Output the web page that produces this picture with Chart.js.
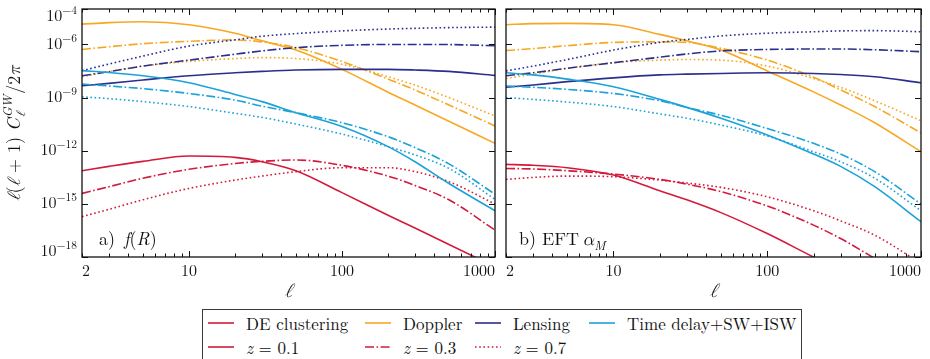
<!DOCTYPE html>
<html>
<head>
<meta charset="utf-8">
<script src="https://cdn.jsdelivr.net/npm/chart.js@4.4.1/dist/chart.umd.min.js"></script>
<style>
  html, body { margin: 0; padding: 0; background: #fff; width: 930px; height: 359px; overflow: hidden; }
  .panel { position: absolute; top: 0; height: 300px; }
  #wrapA { left: 0; width: 500px; }
  #wrapB { left: 500px; width: 430px; }
  #legend {
    position: absolute; left: 202px; top: 309px; width: 600px; height: 70px;
    border: 1.5px solid #3a3a3a; box-sizing: border-box;
    font-family: 'Latin Modern Roman', 'Latin Modern Math', 'Liberation Serif', serif; font-size: 17px; color: #111;
  }
  .item { position: absolute; height: 20px; display: flex; align-items: center; white-space: nowrap; }
  .item svg { margin-right: 12px; }
</style>
</head>
<body>
<div class="panel" id="wrapA"><canvas id="chartA"></canvas></div>
<div class="panel" id="wrapB"><canvas id="chartB"></canvas></div>
<div id="legend"></div>

<script>
// ── Data ───────────────────────────────────────────
const ell = [2, 3, 5, 10, 20, 30, 50, 100, 200, 300, 500, 1000];

// a) f(R)
const frDE1  = [7.4e-14, 1.3e-13, 2.5e-13, 5.0e-13, 4.2e-13, 2.4e-13, 7.4e-14, 4.3e-15, 2.3e-16, 4.3e-17, 5.1e-18, 2.8e-19];
const frDE3  = [3.9e-15, 9.3e-15, 2.8e-14, 8.9e-14, 1.9e-13, 2.5e-13, 3.0e-13, 1.5e-13, 3.7e-14, 1.1e-14, 1.7e-15, 3.3e-17];
const frDE7  = [1.9e-16, 4.9e-16, 1.7e-15, 7.4e-15, 2.2e-14, 3.7e-14, 6.6e-14, 1.1e-13, 1.1e-13, 6.6e-14, 1.8e-14, 9.8e-16];
const frDop1 = [1.4e-5, 1.7e-5, 1.9e-5, 1.3e-5, 4.3e-6, 1.6e-6, 4.8e-7, 3.9e-8, 2.0e-9, 3.8e-10, 4.6e-11, 2.6e-12];
const frDop3 = [5.2e-7, 7.4e-7, 1.1e-6, 1.5e-6, 1.8e-6, 1.4e-6, 6.6e-7, 1.1e-7, 1.1e-8, 2.7e-9, 3.8e-10, 2.5e-11];
const frDop7 = [1.5e-8, 2.9e-8, 6.0e-8, 1.1e-7, 1.6e-7, 1.8e-7, 1.6e-7, 7.6e-8, 1.5e-8, 5.1e-9, 1.0e-9, 9.1e-11];
const frLen1 = [4.7e-9, 6.3e-9, 9.8e-9, 1.7e-8, 2.5e-8, 3.0e-8, 3.6e-8, 3.9e-8, 3.9e-8, 3.6e-8, 3.0e-8, 1.8e-8];
const frLen3 = [1.7e-8, 2.9e-8, 6.0e-8, 1.3e-7, 2.8e-7, 4.3e-7, 6.6e-7, 8.9e-7, 1.0e-6, 1.0e-6, 9.8e-7, 8.5e-7];
const frLen7 = [3.3e-8, 7.8e-8, 2.2e-7, 8.1e-7, 1.8e-6, 2.9e-6, 4.1e-6, 5.8e-6, 7.4e-6, 8.1e-6, 8.9e-6, 9.5e-6];
const frTD1  = [3.3e-8, 2.6e-8, 1.7e-8, 6.9e-9, 1.5e-9, 5.9e-10, 1.4e-10, 2.3e-11, 1.7e-12, 2.4e-13, 1.4e-14, 4.1e-16];
const frTD3  = [5.8e-9, 4.5e-9, 3.2e-9, 1.7e-9, 7.2e-10, 3.3e-10, 1.4e-10, 3.8e-11, 6.2e-12, 1.5e-12, 1.8e-13, 3.5e-15];
const frTD7  = [1.1e-9, 8.7e-10, 5.9e-10, 3.1e-10, 1.3e-10, 7.6e-11, 3.2e-11, 8.7e-12, 1.7e-12, 5.8e-13, 1.0e-13, 1.8e-15];

// b) EFT alpha_M
const eftDE1  = [1.7e-13, 1.5e-13, 1.1e-13, 4.3e-14, 5.5e-15, 1.7e-15, 3.2e-16, 2.1e-17, 1.0e-18, 1.8e-19, 2.1e-20, 6.3e-22];
const eftDE3  = [1.0e-13, 9.3e-14, 7.4e-14, 4.8e-14, 2.4e-14, 1.3e-14, 4.9e-15, 7.6e-16, 6.3e-17, 1.1e-17, 8.3e-19, 2.1e-20];
const eftDE7  = [2.4e-14, 3.1e-14, 3.7e-14, 3.4e-14, 2.2e-14, 1.5e-14, 8.5e-15, 2.5e-15, 4.1e-16, 1.1e-16, 1.7e-17, 4.4e-19];
const eftDop1 = [1.3e-5, 1.5e-5, 1.55e-5, 1.3e-5, 3.7e-6, 1.6e-6, 4.8e-7, 3.2e-8, 2.1e-9, 3.8e-10, 3.8e-11, 8.7e-13];
const eftDop3 = [4.5e-7, 5.8e-7, 8.5e-7, 1.3e-6, 1.4e-6, 1.3e-6, 6.0e-7, 1.3e-7, 1.4e-8, 2.7e-9, 3.1e-10, 1.0e-11];
const eftDop7 = [1.2e-8, 2.1e-8, 4.5e-8, 9.3e-8, 1.3e-7, 1.4e-7, 1.3e-7, 6.0e-8, 1.2e-8, 3.8e-9, 6.6e-10, 4.9e-11];
const eftLen1 = [3.8e-9, 5.1e-9, 7.9e-9, 1.3e-8, 1.9e-8, 2.1e-8, 2.3e-8, 2.5e-8, 2.3e-8, 2.0e-8, 1.5e-8, 6.9e-9];
const eftLen3 = [1.7e-8, 2.5e-8, 4.5e-8, 9.3e-8, 1.9e-7, 2.9e-7, 4.3e-7, 5.2e-7, 5.5e-7, 5.5e-7, 5.0e-7, 3.9e-7];
const eftLen7 = [3.2e-8, 6.0e-8, 1.4e-7, 4.8e-7, 1.3e-6, 1.9e-6, 3.0e-6, 4.3e-6, 5.2e-6, 5.8e-6, 6.0e-6, 5.2e-6];
const eftTD1  = [2.5e-8, 1.9e-8, 1.1e-8, 4.1e-9, 7.9e-10, 2.8e-10, 6.8e-11, 7.8e-12, 6.5e-13, 1.3e-13, 9.3e-15, 9.8e-17];
const eftTD3  = [4.5e-9, 3.8e-9, 2.9e-9, 1.7e-9, 6.6e-10, 2.8e-10, 1.0e-10, 1.8e-11, 2.6e-12, 6.5e-13, 6.6e-14, 9.8e-16];
const eftTD7  = [1.0e-9, 7.9e-10, 5.6e-10, 3.1e-10, 1.2e-10, 6.8e-11, 2.8e-11, 6.8e-12, 8.7e-13, 2.4e-13, 2.8e-14, 4.1e-16];

// ── Ticks / labels ────────────────────────────────
const xLabelTicks = [2, 10, 100, 1000];
const yTickExps = [-4, -6, -9, -12, -15, -18];
const legendRow1 = ['DE clustering', 'Doppler', 'Lensing', 'Time delay+SW+ISW'];
const legendRow2 = ['0.1', '0.3', '0.7'];

// ── Styles ────────────────────────────────────────
const SERIF = "'Latin Modern Roman', 'Latin Modern Math', 'Liberation Serif', serif";
const C_RED = '#d41a3c';
const C_ORANGE = '#f7a823';
const C_NAVY = '#2a2f8e';
const C_CYAN = '#1ba2d8';
const LW = 1.6;
const DASHDOT = [9, 2.5, 1.6, 2.5];
const DOTTED = [1.6, 2.6];

function series(values, color, dash) {
  return {
    data: ell.map((l, i) => ({ x: l, y: values[i] })),
    borderColor: color,
    borderWidth: LW,
    borderDash: dash,
    borderCapStyle: 'butt',
    pointRadius: 0,
    cubicInterpolationMode: 'monotone',
    fill: false,
    clip: 0,
  };
}

function panelSets(de, dop, len, td) {
  return [
    series(td[0], C_CYAN, []), series(td[1], C_CYAN, DASHDOT), series(td[2], C_CYAN, DOTTED),
    series(len[0], C_NAVY, []), series(len[1], C_NAVY, DASHDOT), series(len[2], C_NAVY, DOTTED),
    series(dop[0], C_ORANGE, []), series(dop[1], C_ORANGE, DASHDOT), series(dop[2], C_ORANGE, DOTTED),
    series(de[0], C_RED, []), series(de[1], C_RED, DASHDOT), series(de[2], C_RED, DOTTED),
  ];
}

// run of [text, style] pieces; style: 'r' roman, 'i' italic, 'sub' small italic, 'subsup' stacked
function fontFor(st, size) {
  if (st === 'sub' || st === 'subsup') return `italic ${size * 0.7}px ${SERIF}`;
  return `${st === 'i' ? 'italic ' : ''}${size}px ${SERIF}`;
}
function pieceWidth(ctx, p, size) {
  ctx.font = fontFor(p[1], size);
  if (p[1] === 'subsup') return Math.max(ctx.measureText(p[0]).width, ctx.measureText(p[2]).width) + 2;
  return ctx.measureText(p[0]).width;
}
function drawPieces(ctx, pieces, x, y, size) {
  let cx = x;
  for (const p of pieces) {
    const w = pieceWidth(ctx, p, size);
    if (p[1] === 'subsup') {
      ctx.fillText(p[2], cx + 1, y + size * 0.28);
      ctx.fillText(p[0], cx + 1, y - size * 0.45);
    } else if (p[1] === 'sub') {
      ctx.fillText(p[0], cx, y + size * 0.25);
    } else {
      ctx.fillText(p[0], cx, y);
    }
    cx += w;
  }
  return cx - x;
}
function piecesWidth(ctx, pieces, size) {
  return pieces.reduce((s, p) => s + pieceWidth(ctx, p, size), 0);
}

const framePlugin = {
  id: 'frame',
  afterDatasetsDraw(chart, args, opts) {
    const { ctx, chartArea: a, scales: { x, y } } = chart;
    ctx.save();
    ctx.strokeStyle = '#111';
    ctx.fillStyle = '#111';

    // x ticks (inward, bottom + top)
    ctx.lineWidth = 1;
    for (let d = 1; d <= 100; d *= 10) {
      for (let k = 1; k <= 10; k++) {
        const v = k * d;
        if (v < 2 || v > 1000) continue;
        const px = Math.round(x.getPixelForValue(v)) + 0.5;
        const len = (k === 1 || k === 10) ? 6 : 3.5;
        ctx.beginPath();
        ctx.moveTo(px, a.bottom); ctx.lineTo(px, a.bottom - len);
        ctx.moveTo(px, a.top); ctx.lineTo(px, a.top + len);
        ctx.stroke();
      }
    }
    // y ticks (inward, left + right)
    for (const e of yTickExps) {
      const py = Math.round(y.getPixelForValue(Math.pow(10, e))) + 0.5;
      ctx.beginPath();
      ctx.moveTo(a.left, py); ctx.lineTo(a.left + 6, py);
      ctx.moveTo(a.right, py); ctx.lineTo(a.right - 6, py);
      ctx.stroke();
    }

    // frame
    ctx.lineWidth = 1.3;
    ctx.strokeRect(a.left, a.top, a.right - a.left, a.bottom - a.top);

    // y tick labels
    if (opts.yLabels) {
      ctx.textBaseline = 'alphabetic';
      for (const e of yTickExps) {
        let py = y.getPixelForValue(Math.pow(10, e)) - 1;
        py = Math.min(Math.max(py, a.top + 6), a.bottom - 7);
        ctx.font = `16px ${SERIF}`;
        const w1 = ctx.measureText('10').width;
        ctx.font = `11.5px ${SERIF}`;
        const sup = '\u2212' + Math.abs(e);
        const w2 = ctx.measureText(sup).width;
        const x0 = a.left - 5 - w1 - w2;
        ctx.font = `16px ${SERIF}`;
        ctx.fillText('10', x0, py + 5.5);
        ctx.font = `11.5px ${SERIF}`;
        ctx.fillText(sup, x0 + w1, py - 1.5);
      }
      // y axis title (rotated)
      const title = [['\u2113', 'i'], ['(', 'r'], ['\u2113', 'i'], [' + 1) ', 'r'], ['C', 'i'],
                     ['GW', 'subsup', '\u2113'], ['/2', 'r'], ['\u03c0', 'i']];
      ctx.save();
      ctx.translate(0, (a.top + a.bottom) / 2);
      ctx.rotate(-Math.PI / 2);
      const tw = piecesWidth(ctx, title, 18);
      drawPieces(ctx, title, -tw / 2, 20, 18);
      ctx.restore();
    }

    // x axis title
    ctx.font = `italic 19px ${SERIF}`;
    ctx.textAlign = 'center';
    ctx.fillText('\u2113', (a.left + a.right) / 2, 297);
    ctx.textAlign = 'left';

    // panel label
    drawPieces(ctx, opts.label, a.left + opts.labelOffset, a.bottom - 12, 18);
    ctx.restore();
  }
};

function makeChart(id, sets, pad, label, labelOffset, yLabels) {
  return new Chart(document.getElementById(id), {
    type: 'line',
    data: { datasets: sets },
    plugins: [framePlugin],
    options: {
      responsive: true,
      maintainAspectRatio: false,
      animation: false,
      events: [],
      layout: { padding: pad },
      plugins: {
        legend: { display: false },
        tooltip: { enabled: false },
        frame: { label, labelOffset, yLabels },
      },
      scales: {
        x: {
          type: 'logarithmic', min: 2, max: 1000,
          grid: { display: false, drawTicks: false },
          border: { display: false },
          afterBuildTicks: (s) => { s.ticks = xLabelTicks.map((v) => ({ value: v })); },
          afterFit: (s) => { s.height = 43; },
          ticks: {
            autoSkip: false, maxRotation: 0, align: 'inner', padding: 5,
            color: '#111', font: { family: SERIF, size: 16 },
            callback: (v) => String(v),
          },
        },
        y: { type: 'logarithmic', min: 1e-18, max: 1e-4, display: false },
      },
    },
  });
}

makeChart('chartA',
  panelSets([frDE1, frDE3, frDE7], [frDop1, frDop3, frDop7], [frLen1, frLen3, frLen7], [frTD1, frTD3, frTD7]),
  { left: 82, top: 9, right: 3, bottom: 0 },
  [['a)\u2002', 'r'], ['f', 'i'], ['(', 'r'], ['R', 'i'], [')', 'r']], 17, true);

makeChart('chartB',
  panelSets([eftDE1, eftDE3, eftDE7], [eftDop1, eftDop3, eftDop7], [eftLen1, eftLen3, eftLen7], [eftTD1, eftTD3, eftTD7]),
  { left: 6, top: 9, right: 9, bottom: 0 },
  [['b) EFT\u2009', 'r'], ['\u03b1', 'i'], ['M', 'sub']], 13, false);

// ── Legend (HTML) ─────────────────────────────────
function sample(color, dash) {
  return `<svg width="26" height="10"><line x1="0" y1="5" x2="26" y2="5" stroke="${color}" stroke-width="${LW}" stroke-dasharray="${dash.join(' ')}"/></svg>`;
}
const legendEl = document.getElementById('legend');
const cols = [5, 162, 272, 386];
const rowColors = [C_RED, C_ORANGE, C_NAVY, C_CYAN];
let html = '';
legendRow1.forEach((t, i) => {
  html += `<div class="item" style="left:${cols[i]}px;top:3px">${sample(rowColors[i], [])}<span>${t}</span></div>`;
});
const zDash = [[], DASHDOT, DOTTED];
legendRow2.forEach((t, i) => {
  html += `<div class="item" style="left:${cols[i]}px;top:27px">${sample(C_RED, zDash[i])}<span><i>z</i> = ${t}</span></div>`;
});
legendEl.innerHTML = html;
</script>
</body>
</html>
